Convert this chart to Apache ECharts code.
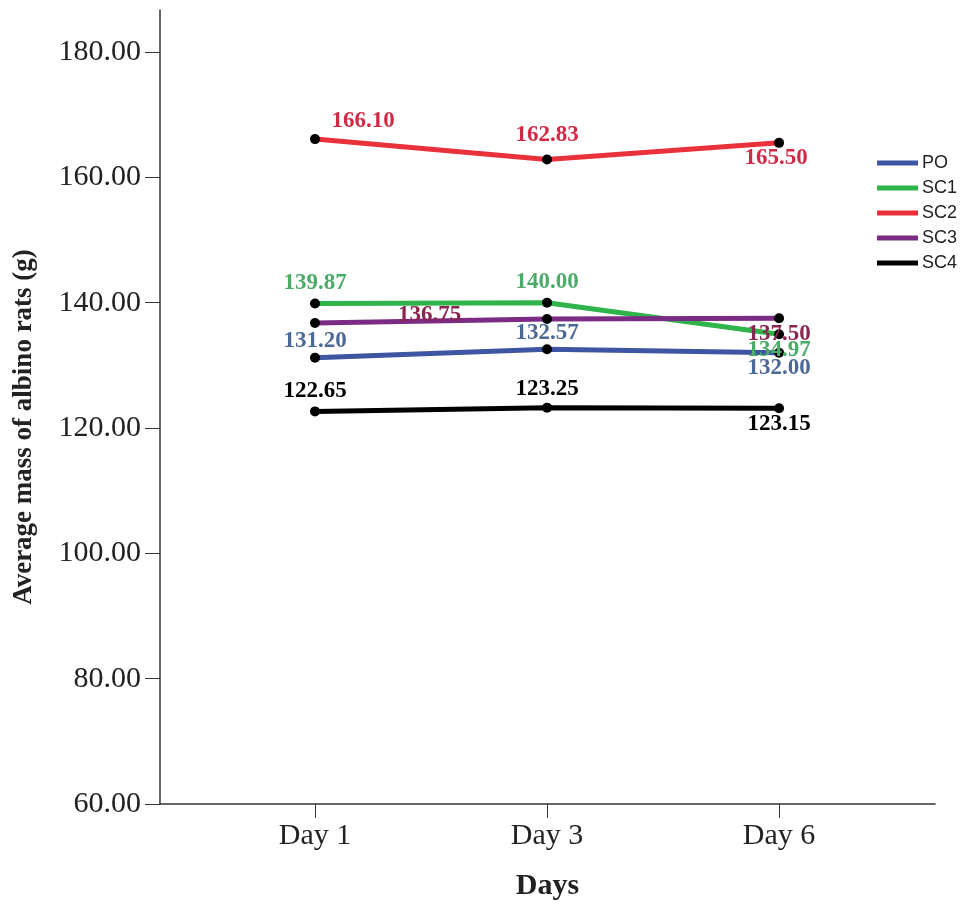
<!DOCTYPE html>
<html>
<head>
<meta charset="utf-8">
<script src="https://cdn.jsdelivr.net/npm/echarts@6/dist/echarts.min.js"></script>
<style>html,body{margin:0;padding:0;background:#fff}#c{width:961px;height:906px}</style>
</head>
<body>
<div id="c"></div>
<script>
const days = ['Day 1', 'Day 3', 'Day 6'];
const yTicks = [60, 80, 100, 120, 140, 160, 180];
const seriesNames = ['PO', 'SC1', 'SC2', 'SC3', 'SC4'];
const PO  = [131.20, 132.57, 132.00];
const SC1 = [139.87, 140.00, 134.97];
const SC2 = [166.10, 162.83, 165.50];
const SC3 = [136.75, 137.40, 137.50];
const SC4 = [122.65, 123.25, 123.15];

const values = {PO, SC1, SC2, SC3, SC4};
const lineColors = {PO:'#3d55a2', SC1:'#2fb34b', SC2:'#e8313b', SC3:'#7b2b84', SC4:'#000000'};
const labelColors = {PO:'#4c6897', SC1:'#4aac68', SC2:'#d22a46', SC3:'#8a2550', SC4:'#000000'};
// label layout per series per point (style only)
const labelLayout = {
  PO:  [{position:'top',distance:0},{position:'top',distance:0},{position:'bottom',distance:-1}],
  SC1: [{position:'top',distance:4},{position:'top',distance:4},{position:'bottom',distance:-1}],
  SC2: [{position:'top',distance:2,offset:[48,0]},{position:'top',distance:8},{position:'bottom',distance:-1,offset:[-3,0]}],
  SC3: [{position:'right',distance:78,offset:[0,-8]},{show:false},{position:'bottom',distance:-1}],
  SC4: [{position:'top',distance:4},{position:'top',distance:2},{position:'bottom',distance:-1}]
};

const series = seriesNames.map(name => ({
  name: name,
  type: 'line',
  symbol: 'circle',
  symbolSize: 10,
  lineStyle: {color: lineColors[name], width: 5},
  itemStyle: {color: '#000'},
  emphasis: {disabled: true},
  label: {
    show: true,
    color: labelColors[name],
    fontFamily: 'Liberation Serif',
    fontWeight: 'bold',
    fontSize: 23,
    formatter: p => p.value[1].toFixed(2)
  },
  data: values[name].map((v, i) => ({
    value: [i + 1, v],
    label: labelLayout[name][i]
  }))
}));

const chart = echarts.init(document.getElementById('c'));
chart.setOption({
  animation: false,
  backgroundColor: '#fff',
  grid: {left: 160, right: 26, top: 10, bottom: 101},
  legend: {
    orient: 'vertical',
    left: 872,
    top: 149,
    itemWidth: 41,
    itemHeight: 5,
    itemGap: 7,
    icon: 'rect',
    textStyle: {fontFamily: 'Liberation Sans', fontSize: 18, color: '#222', padding: [0,0,0,-1]},
    data: seriesNames.map(n => ({name: n, itemStyle: {color: lineColors[n]}}))
  },
  xAxis: {
    type: 'value',
    min: 0.332,
    max: 3.672,
    splitLine: {show: false},
    axisLine: {lineStyle: {color: '#333', width: 1.5}},
    axisTick: {show: true, length: 14, customValues: [1, 2, 3], lineStyle: {color: '#333'}},
    axisLabel: {
      customValues: [1, 2, 3],
      formatter: v => days[Math.round(v) - 1],
      fontFamily: 'Liberation Serif', fontSize: 30, color: '#222', margin: 17
    },
    name: 'Days',
    nameLocation: 'middle',
    nameGap: 67,
    nameTextStyle: {fontFamily: 'Liberation Serif', fontWeight: 'bold', fontSize: 30, color: '#222'}
  },
  yAxis: {
    type: 'value',
    min: 60,
    max: 186.7,
    splitLine: {show: false},
    axisLine: {show: true, lineStyle: {color: '#333', width: 1.5}},
    axisTick: {show: true, length: 15, customValues: yTicks, lineStyle: {color: '#333'}},
    axisLabel: {
      customValues: yTicks,
      formatter: v => v.toFixed(2),
      fontFamily: 'Liberation Serif', fontSize: 30, color: '#222', margin: 19
    },
    name: 'Average mass of albino rats (g)',
    nameLocation: 'middle',
    nameGap: 122,
    nameRotate: 90,
    nameTextStyle: {fontFamily: 'Liberation Serif', fontWeight: 'bold', fontSize: 27, color: '#222', padding: [0, 40, 0, 0]}
  },
  series: series
});
</script>
</body>
</html>
